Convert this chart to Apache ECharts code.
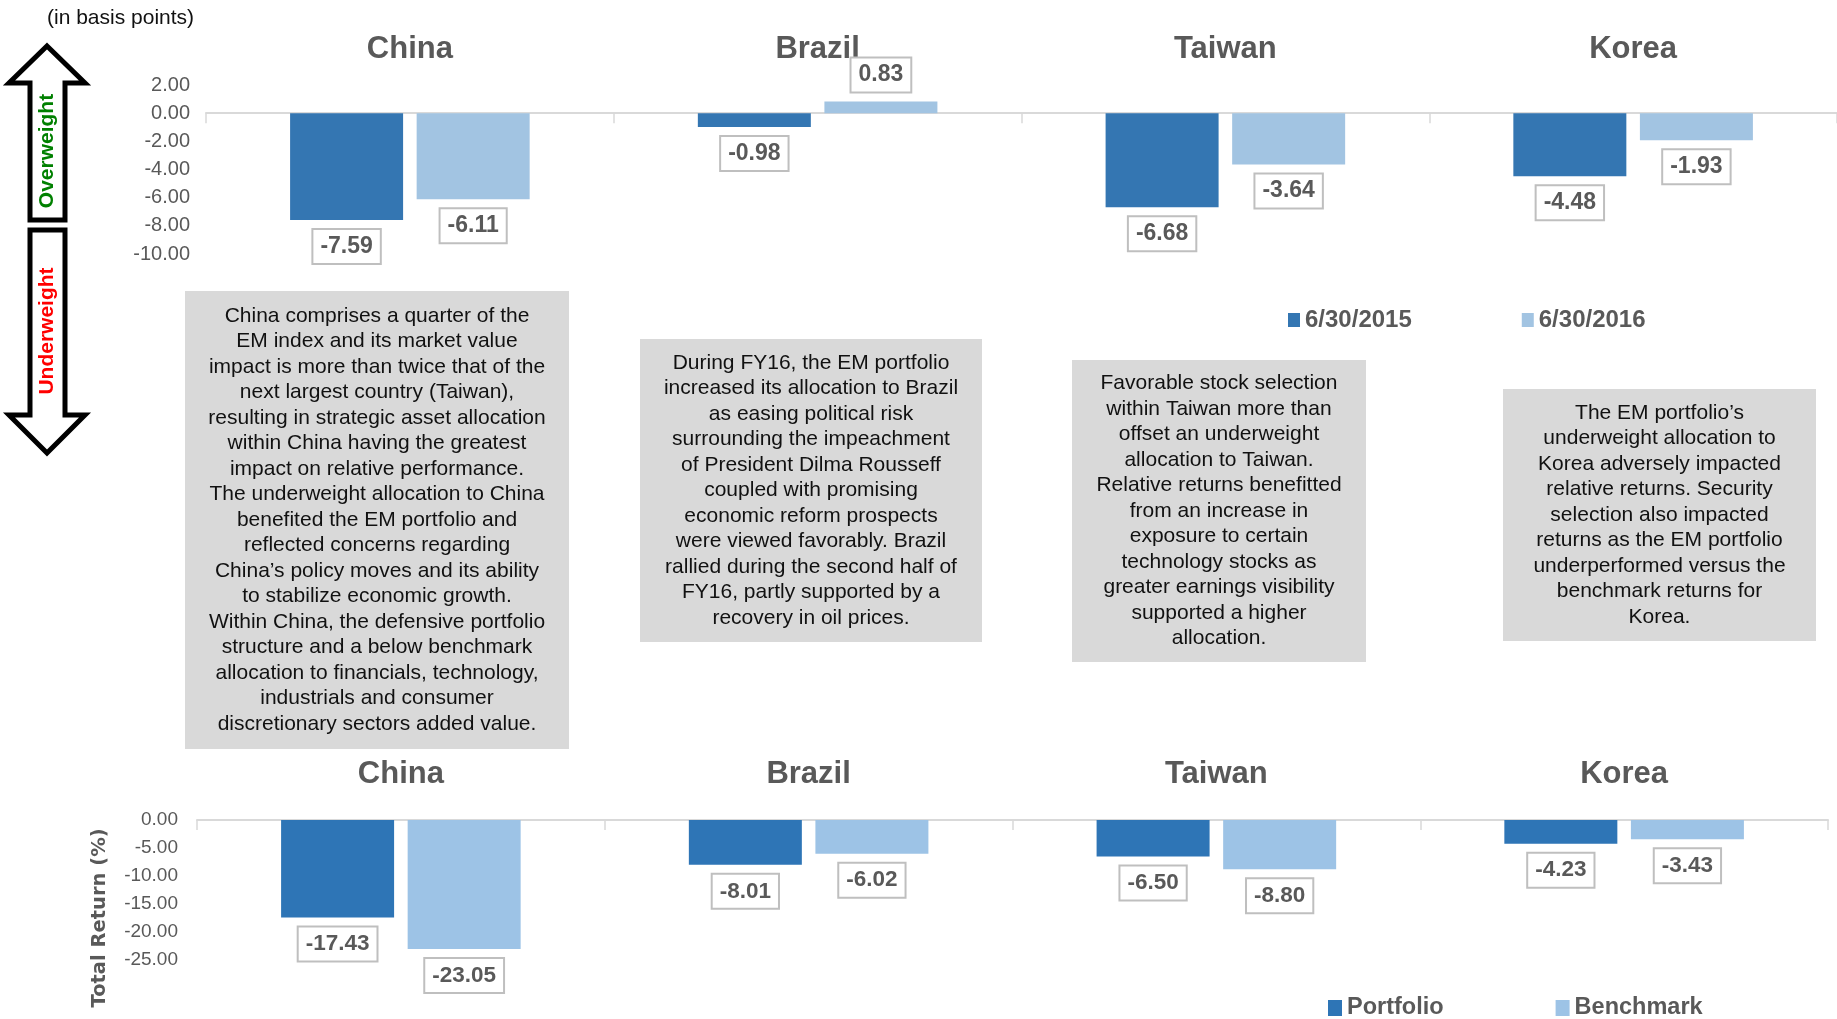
<!DOCTYPE html>
<html>
<head>
<meta charset="utf-8">
<title>EM country allocation</title>
<script src="https://cdn.jsdelivr.net/npm/echarts@6/dist/echarts.min.js"></script>
<style>
  html, body { margin: 0; padding: 0; background: #fff; }
  #chart { width: 1837px; height: 1019px; }
</style>
</head>
<body>
<div id="chart"></div>
<script>
// data
var countries = ['China', 'Brazil', 'Taiwan', 'Korea'];
var weight2015 = [-7.59, -0.98, -6.68, -4.48];
var weight2016 = [-6.11, 0.83, -3.64, -1.93];
var portfolioReturn = [-17.43, -8.01, -6.50, -4.23];
var benchmarkReturn = [-23.05, -6.02, -8.80, -3.43];
var weightTicks = { min: -10, max: 2, interval: 2 };
var returnTicks = { min: -25, max: 0, interval: 5 };

var notes = [
  'China comprises a quarter of the\nEM index and its market value\nimpact is more than twice that of the\nnext largest country (Taiwan),\nresulting in strategic asset allocation\nwithin China having the greatest\nimpact on relative performance.\nThe underweight allocation to China\nbenefited the EM portfolio and\nreflected concerns regarding\nChina\u2019s policy moves and its ability\nto stabilize economic growth.\nWithin China, the defensive portfolio\nstructure and a below benchmark\nallocation to financials, technology,\nindustrials and consumer\ndiscretionary sectors added value.',
  'During FY16, the EM portfolio\nincreased its allocation to Brazil\nas easing political risk\nsurrounding the impeachment\nof President Dilma Rousseff\ncoupled with promising\neconomic reform prospects\nwere viewed favorably. Brazil\nrallied during the second half of\nFY16, partly supported by a\nrecovery in oil prices.',
  'Favorable stock selection\nwithin Taiwan more than\noffset an underweight\nallocation to Taiwan.\nRelative returns benefitted\nfrom an increase in\nexposure to certain\ntechnology stocks as\ngreater earnings visibility\nsupported a higher\nallocation.',
  'The EM portfolio\u2019s\nunderweight allocation to\nKorea adversely impacted\nrelative returns. Security\nselection also impacted\nreturns as the EM portfolio\nunderperformed versus the\nbenchmark returns for\nKorea.'
];

var ARIAL = "'Liberation Sans', Arial, sans-serif";
var GREY = '#595959';

// note boxes [x, y, w, h]
var noteBoxes = [
  [185, 291, 384, 458],
  [640, 339, 342, 303],
  [1072, 360, 294, 302],
  [1503, 389, 313, 252]
];

function withPos(values) {
  return values.map(function (v) {
    return { value: v, label: { position: v < 0 ? 'bottom' : 'top' } };
  });
}

function barLabel(size) {
  return {
    show: true,
    distance: 10,
    formatter: function (p) { return p.value.toFixed(2); },
    color: GREY,
    fontWeight: 'bold',
    fontSize: size,
    fontFamily: ARIAL,
    backgroundColor: '#fff',
    borderColor: '#bfbfbf',
    borderWidth: 2,
    padding: [5, 7]
  };
}

function dataAxis(gi) {
  return {
    gridIndex: gi, type: 'category', data: countries, position: 'bottom',
    axisLine: { onZero: true, lineStyle: { color: '#d9d9d9', width: 2 } },
    axisTick: { show: true, length: 10, lineStyle: { color: '#d9d9d9', width: 1.5 } },
    axisLabel: { show: false }
  };
}

function titleAxis(gi, size, margin) {
  return {
    gridIndex: gi, type: 'category', data: countries, position: 'top',
    axisLine: { show: false }, axisTick: { show: false },
    axisLabel: { show: true, margin: margin, color: GREY, fontWeight: 'bold', fontSize: size, fontFamily: ARIAL }
  };
}

var graphics = [];
noteBoxes.forEach(function (b, i) {
  graphics.push({
    type: 'rect', shape: { x: b[0], y: b[1], width: b[2], height: b[3] },
    style: { fill: '#d9d9d9' }, z: 1
  });
  graphics.push({
    type: 'text', x: b[0] + b[2] / 2, y: b[1] + b[3] / 2, z: 2,
    style: {
      text: notes[i], fill: '#111', fontSize: 21, fontFamily: ARIAL, lineHeight: 25.5,
      align: 'center', verticalAlign: 'middle', textAlign: 'center', textVerticalAlign: 'middle'
    }
  });
});

// overweight / underweight arrows
graphics.push({
  type: 'polygon', z: 1,
  shape: { points: [[47, 46], [85, 83], [65, 83], [65, 220], [30, 220], [30, 83], [9, 83]] },
  style: { fill: '#fff', stroke: '#000', lineWidth: 5 }
});
graphics.push({
  type: 'polygon', z: 1,
  shape: { points: [[30, 230], [65, 230], [65, 415], [85, 415], [47, 453], [9, 415], [30, 415]] },
  style: { fill: '#fff', stroke: '#000', lineWidth: 5 }
});
graphics.push({
  type: 'text', x: 47, y: 151, rotation: Math.PI / 2, z: 3,
  style: { text: 'Overweight', fill: '#008000', fontSize: 21, fontWeight: 'bold', fontFamily: ARIAL,
    align: 'center', verticalAlign: 'middle', textAlign: 'center', textVerticalAlign: 'middle' }
});
graphics.push({
  type: 'text', x: 47, y: 331, rotation: Math.PI / 2, z: 3,
  style: { text: 'Underweight', fill: '#ff0000', fontSize: 21, fontWeight: 'bold', fontFamily: ARIAL,
    align: 'center', verticalAlign: 'middle', textAlign: 'center', textVerticalAlign: 'middle' }
});
graphics.push({
  type: 'text', x: 47, y: 18, z: 3,
  style: { text: '(in basis points)', fill: '#111', fontSize: 21, fontFamily: ARIAL,
    align: 'left', verticalAlign: 'middle', textAlign: 'left', textVerticalAlign: 'middle' }
});
graphics.push({
  type: 'text', x: 100, y: 918, rotation: Math.PI / 2, z: 3,
  style: { text: 'Total Return (%)', fill: GREY, fontSize: 19.5, fontWeight: 'bold', fontFamily: "'DejaVu Sans', Verdana, sans-serif",
    align: 'center', verticalAlign: 'middle', textAlign: 'center', textVerticalAlign: 'middle' }
});

var chart = echarts.init(document.getElementById('chart'));
chart.setOption({
  animation: false,
  backgroundColor: '#fff',
  grid: [
    { left: 206, right: 0, top: 85, height: 169, outerBoundsMode: 'none' },
    { left: 197, right: 9, top: 820, height: 140, outerBoundsMode: 'none' }
  ],
  legend: [
    {
      data: ['6/30/2015', '6/30/2016'], left: 1288, top: 308, padding: 0,
      icon: 'rect', itemWidth: 12, itemHeight: 14, itemGap: 110,
      textStyle: { fontSize: 24, fontWeight: 'bold', color: GREY, fontFamily: ARIAL }
    },
    {
      data: ['Portfolio', 'Benchmark'], left: 1328, top: 996, padding: 0,
      icon: 'rect', itemWidth: 14, itemHeight: 16, itemGap: 112,
      textStyle: { fontSize: 23.5, fontWeight: 'bold', color: GREY, fontFamily: ARIAL }
    }
  ],
  xAxis: [
    dataAxis(0),
    titleAxis(0, 31, 20),
    dataAxis(1),
    titleAxis(1, 31, 30)
  ],
  yAxis: [
    {
      gridIndex: 0, type: 'value', min: weightTicks.min, max: weightTicks.max, interval: weightTicks.interval,
      axisLine: { show: false }, axisTick: { show: false }, splitLine: { show: false },
      axisLabel: { margin: 16, color: GREY, fontSize: 20, fontFamily: ARIAL, formatter: function (v) { return v.toFixed(2); } }
    },
    {
      gridIndex: 1, type: 'value', min: returnTicks.min, max: returnTicks.max, interval: returnTicks.interval,
      axisLine: { show: false }, axisTick: { show: false }, splitLine: { show: false },
      axisLabel: { margin: 19, padding: [6, 0, 0, 0], color: GREY, fontSize: 19, fontFamily: ARIAL, formatter: function (v) { return v.toFixed(2); } }
    }
  ],
  series: [
    {
      name: '6/30/2015', type: 'bar', xAxisIndex: 0, yAxisIndex: 0,
      barWidth: 113, barGap: '12%', itemStyle: { color: '#3476b2' },
      label: barLabel(23), data: withPos(weight2015)
    },
    {
      name: '6/30/2016', type: 'bar', xAxisIndex: 0, yAxisIndex: 0,
      barWidth: 113, barGap: '12%', itemStyle: { color: '#a2c4e2' },
      label: barLabel(23), data: withPos(weight2016)
    },
    {
      name: 'Portfolio', type: 'bar', xAxisIndex: 2, yAxisIndex: 1,
      barWidth: 113, barGap: '12%', itemStyle: { color: '#2e75b6' },
      label: barLabel(22.5), data: withPos(portfolioReturn)
    },
    {
      name: 'Benchmark', type: 'bar', xAxisIndex: 2, yAxisIndex: 1,
      barWidth: 113, barGap: '12%', itemStyle: { color: '#9dc3e6' },
      label: barLabel(22.5), data: withPos(benchmarkReturn)
    }
  ],
  graphic: graphics
});
</script>
</body>
</html>
